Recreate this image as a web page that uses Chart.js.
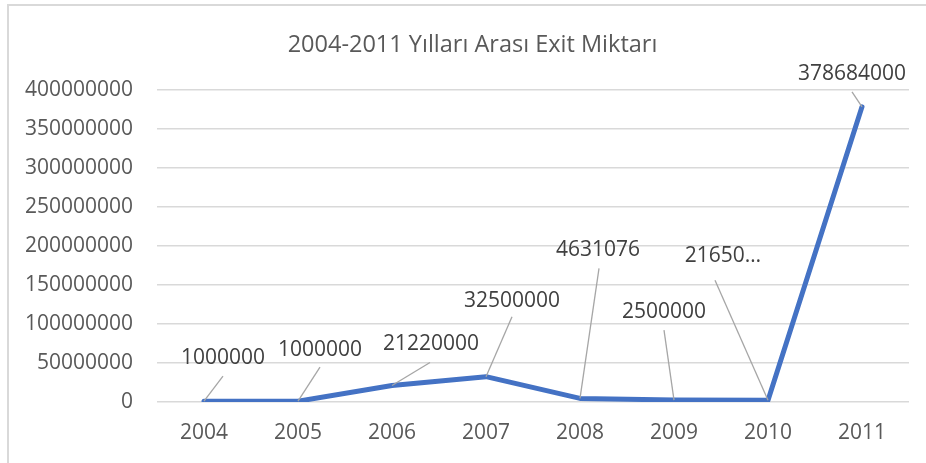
<!DOCTYPE html>
<html>
<head>
<meta charset="utf-8">
<script src="https://cdn.jsdelivr.net/npm/chart.js@4.4.1/dist/chart.umd.min.js"></script>
<style>
  html, body { margin: 0; padding: 0; background: #ffffff; }
  #wrap { width: 926px; height: 463px; position: relative; }
</style>
</head>
<body>
<div id="wrap"><canvas id="c" width="926" height="463"></canvas></div>
<script>
// ---- data ----
const chartTitle = '2004-2011 Yılları Arası Exit Miktarı';
const categories = ['2004', '2005', '2006', '2007', '2008', '2009', '2010', '2011'];
const exitValues = [1000000, 1000000, 21220000, 32500000, 4631076, 2500000, 2165000, 378684000];
const yTickValues = [0, 50000000, 100000000, 150000000, 200000000, 250000000, 300000000, 350000000, 400000000];

// ---- label placement (style) ----
const labelOffsets = [
  { dx: 19, dy: -43 }, { dx: 22, dy: -51 }, { dx: 39, dy: -41 }, { dx: 26, dy: -76 },
  { dx: 18, dy: -148 }, { dx: -10, dy: -88 }, { dx: -45, dy: -144 }, { dx: -10, dy: -33 }
];
const leaderStart = [
  { dx: 0, dy: 18 }, { dx: 0, dy: 17 }, { dx: -1, dy: 18 }, { dx: 0, dy: 16 },
  { dx: 1, dy: 18 }, { dx: 0, dy: 18 }, { dx: -8, dy: 24 }, { dx: 0, dy: 18 }
];
const truncateChars = { 6: 5 };
const titleLeftInset = 36;

const FONT = "'Open Sans', 'DejaVu Sans', sans-serif";

const frame = {
  id: 'frame',
  afterLayout(chart) {
    if (chart.titleBlock) chart.titleBlock.left = titleLeftInset;
  },
  beforeDraw(chart) {
    const ctx = chart.ctx;
    ctx.save();
    ctx.fillStyle = '#ffffff';
    ctx.fillRect(0, 0, chart.width, chart.height);
    ctx.strokeStyle = '#d9d9d9';
    ctx.lineWidth = 2;
    ctx.strokeRect(8, 5, chart.width + 20, chart.height + 20);
    ctx.restore();
  }
};

const dataLabels = {
  id: 'dataLabels',
  afterDatasetsDraw(chart) {
    const ctx = chart.ctx;
    const meta = chart.getDatasetMeta(0);
    const vals = chart.data.datasets[0].data;
    ctx.save();
    ctx.font = '21px ' + FONT;
    ctx.textAlign = 'center';
    ctx.textBaseline = 'middle';
    meta.data.forEach((pt, i) => {
      const off = labelOffsets[i];
      const cx = pt.x + off.dx, cy = pt.y + off.dy;
      const ls = leaderStart[i];
      ctx.strokeStyle = '#a6a6a6';
      ctx.lineWidth = 1.3;
      ctx.beginPath();
      ctx.moveTo(cx + ls.dx, cy + ls.dy);
      ctx.lineTo(pt.x, pt.y);
      ctx.stroke();
      let txt = String(vals[i]);
      if (truncateChars[i] !== undefined) txt = txt.slice(0, truncateChars[i]) + '…';
      ctx.fillStyle = '#404040';
      ctx.fillText(txt, cx, cy);
    });
    ctx.restore();
  }
};

new Chart(document.getElementById('c'), {
  type: 'line',
  data: {
    labels: categories,
    datasets: [{
      data: exitValues,
      borderColor: '#4472C4',
      borderWidth: 5,
      borderCapStyle: 'round',
      borderJoinStyle: 'round',
      pointRadius: 0,
      pointHoverRadius: 0,
      tension: 0,
      fill: false
    }]
  },
  options: {
    responsive: false,
    animation: false,
    events: [],
    layout: { padding: { top: 31, left: 0, right: 17, bottom: 0 } },
    plugins: {
      legend: { display: false },
      tooltip: { enabled: false },
      title: {
        display: true,
        text: chartTitle,
        color: '#595959',
        font: { family: FONT, size: 23.5, weight: 'normal' },
        padding: { top: 0, bottom: 31 }
      }
    },
    scales: {
      x: {
        offset: true,
        grid: { display: false, drawTicks: false },
        border: { display: false },
        ticks: { color: '#595959', font: { family: FONT, size: 21 }, padding: 18, maxRotation: 0 },
        afterFit(scale) { scale.height = 61; }
      },
      y: {
        min: 0,
        max: 400000000,
        afterBuildTicks(scale) { scale.ticks = yTickValues.map(v => ({ value: v })); },
        grid: { color: '#d9d9d9', lineWidth: 1.5, drawTicks: false },
        border: { display: false },
        ticks: {
          color: '#595959',
          font: { family: FONT, size: 21 },
          padding: 24,
          callback: (v) => String(v)
        },
        afterFit(scale) { scale.width = 157; }
      }
    }
  },
  plugins: [frame, dataLabels]
});
</script>
</body>
</html>
